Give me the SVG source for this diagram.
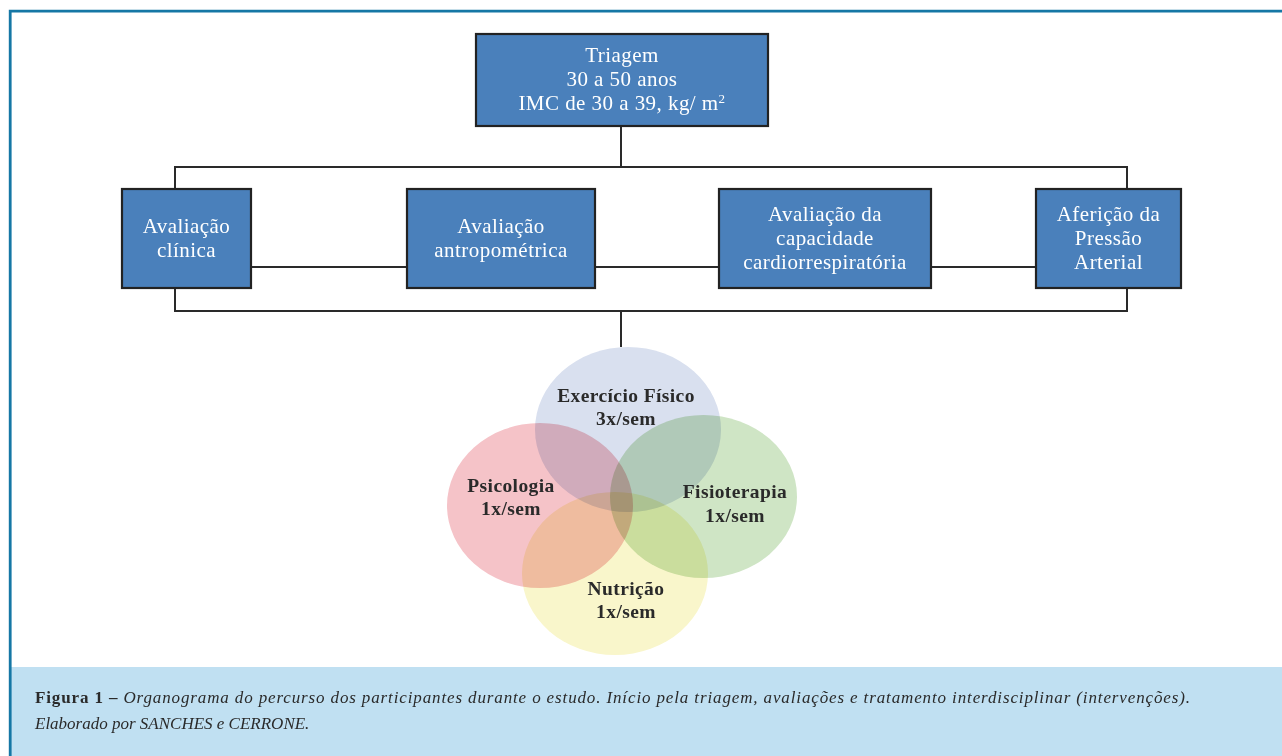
<svg xmlns="http://www.w3.org/2000/svg" width="1282" height="756" viewBox="0 0 1282 756">
<style>
.box{fill:#4a80bb;stroke:#222;stroke-width:2.2}
.bt{font-family:"Liberation Serif",serif;font-size:21px;letter-spacing:0.45px;fill:#fff;text-anchor:middle}
.conn{fill:none;stroke:#2a2a2a;stroke-width:2}
.ell{mix-blend-mode:multiply}
.ct{font-family:"Liberation Serif",serif;font-size:19.5px;letter-spacing:0.4px;font-weight:bold;fill:#2a2a2a;text-anchor:middle}
.cap{font-family:"Liberation Serif",serif;font-size:17px;fill:#2a2a2a;font-style:italic}
</style>
<rect x="0" y="0" width="1282" height="756" fill="#fff"/>
<rect x="11" y="667" width="1271" height="89" fill="#c0e0f2"/>
<path d="M10.2 756 V11.2 H1282" fill="none" stroke="#1577a5" stroke-width="2.8"/>
<g id="connectors" class="conn">
<path d="M621 126 V167"/>
<path d="M175 189 V167 H1127 V189"/>
<path d="M251 267 H407 M595 267 H719 M931 267 H1036"/>
<path d="M175 288 V311 H1127 V288"/>
<path d="M621 311 V347"/>
</g>
<g id="triagem">
<rect class="box" x="476" y="34" width="292" height="92"/>
<text class="bt" x="622" y="62">Triagem</text>
<text class="bt" x="622" y="86">30 a 50 anos</text>
<text class="bt" x="622" y="110">IMC de 30 a 39, kg/ m<tspan font-size="13" dy="-7">2</tspan></text>
</g>
<g id="avaliacao-clinica">
<rect class="box" x="122" y="189" width="129" height="99"/>
<text class="bt" x="186.5" y="233">Avaliação</text>
<text class="bt" x="186.5" y="257">clínica</text>
</g>
<g id="avaliacao-antropometrica">
<rect class="box" x="407" y="189" width="188" height="99"/>
<text class="bt" x="501" y="233">Avaliação</text>
<text class="bt" x="501" y="257">antropométrica</text>
</g>
<g id="avaliacao-capacidade">
<rect class="box" x="719" y="189" width="212" height="99"/>
<text class="bt" x="825" y="221">Avaliação da</text>
<text class="bt" x="825" y="245">capacidade</text>
<text class="bt" x="825" y="269">cardiorrespiratória</text>
</g>
<g id="afericao-pressao">
<rect class="box" x="1036" y="189" width="145" height="99"/>
<text class="bt" x="1108.5" y="221">Aferição da</text>
<text class="bt" x="1108.5" y="245">Pressão</text>
<text class="bt" x="1108.5" y="269">Arterial</text>
</g>
<g id="circles">
<ellipse class="ell" cx="628" cy="429.5" rx="93" ry="82.5" fill="#d9e0ef"/>
<ellipse class="ell" cx="540" cy="505.5" rx="93" ry="82.5" fill="#f5c3c8"/>
<ellipse class="ell" cx="703.5" cy="496.5" rx="93.5" ry="81.5" fill="#cfe5c5"/>
<ellipse class="ell" cx="615" cy="573.5" rx="93" ry="81.5" fill="#f9f6cb"/>
</g>
<g id="exercicio"><text class="ct" x="626" y="402">Exercício Físico</text><text class="ct" x="626" y="425">3x/sem</text></g>
<g id="psicologia"><text class="ct" x="511" y="492">Psicologia</text><text class="ct" x="511" y="515">1x/sem</text></g>
<g id="fisioterapia"><text class="ct" x="735" y="498">Fisioterapia</text><text class="ct" x="735" y="522">1x/sem</text></g>
<g id="nutricao"><text class="ct" x="626" y="595">Nutrição</text><text class="ct" x="626" y="618">1x/sem</text></g>
<g id="caption">
<text class="cap" x="35" y="703" textLength="1155" lengthAdjust="spacing"><tspan font-weight="bold" font-style="normal">Figura 1 –</tspan> Organograma do percurso dos participantes durante o estudo. Início pela triagem, avaliações e tratamento interdisciplinar (intervenções).</text>
<text class="cap" x="35" y="729">Elaborado por SANCHES e CERRONE.</text>
</g>
</svg>
